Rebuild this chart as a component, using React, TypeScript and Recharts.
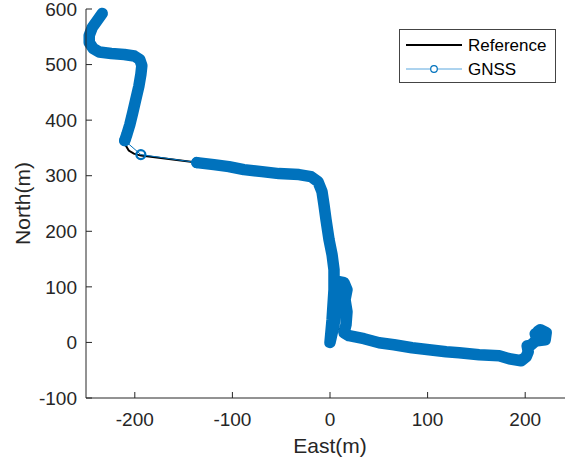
import { LineChart, Line, XAxis, YAxis, Label } from "recharts"

type Pt = [number, number]

// east/north in metres
const eastTicks = [-200, -100, 0, 100, 200]
const northTicks = [-100, 0, 100, 200, 300, 400, 500, 600]

const referencePath: Pt[] = [
  [216, 15], [203, -17], [196, -33], [174, -24], [133, -18.5], [101, -13],
  [66, -4], [35, 7], [14, 17], [4, 32], [0, 0], [3, 60], [4, 131], [2, 158],
  [-4, 221], [-8, 271], [-19, 298], [-52, 304], [-104, 316], [-136.4, 323.6],
  [-193.8, 336.2], [-201, 339.8], [-206.2, 345.2], [-209.2, 354.2], [-210.3, 363.2],
  [-205, 392], [-199, 437], [-194, 482], [-193, 498], [-201, 515], [-224, 520],
  [-243, 529], [-247, 552], [-238, 579], [-233.4, 591.9],
]

const gnssSouthEast: Pt[] = [
  [215.4, 22.9], [221.5, 17.5], [220.5, 4.9], [212.3, 3.1], [210.3, 15.7],
  [215.4, 12.1], [218.5, 19.3], [213, 20], [219, 12], [216, 6], [214.4, 8],
  [205.1, -5.9], [202, -5.9], [203.1, -16.7], [201, -25.7], [195.9, -32.9],
  [183.6, -29.3], [173.3, -23.9], [152.8, -22.1], [132.3, -18.5], [119, -16.7],
  [101.5, -13.1], [84.1, -9.5], [65.6, -4.1], [50.3, -0.5], [34.9, 6.7],
  [19.5, 12.1], [14.4, 17.5], [16.4, 31.9], [17.4, 55.3], [15.4, 76.9],
  [17.4, 94.9], [14.4, 107.5], [9.2, 109.3], [7.2, 86], [6.2, 59], [4.1, 31.9],
  [0, 0], [2.1, 40.9], [4.1, 94.9], [4.1, 130.9], [2.1, 158], [-1, 185],
  [-4.1, 221], [-6.2, 248], [-8.2, 271.4], [-12.3, 289.4], [-19.5, 298.4],
  [-31.8, 302], [-52.3, 303.8], [-69.7, 307.4], [-88.2, 311], [-103.6, 316.4],
  [-119, 320], [-136.4, 323.6],
]

const gnssGap: Pt[] = [
  [-136.4, 323.6], [-193.8, 338], [-210.3, 363.2],
]

const gnssNorthWest: Pt[] = [
  [-210.3, 363.2], [-208.2, 374], [-205.1, 392], [-202.1, 413.6], [-199, 437.1],
  [-195.9, 460.5], [-193.8, 482.1], [-192.8, 498.3], [-194.9, 509.1],
  [-200.5, 515.4], [-210.8, 518.1], [-224.1, 519.9], [-236.4, 522.6],
  [-242.6, 528.9], [-246.7, 539.7], [-246.7, 552.3], [-243.6, 566.7],
  [-238.5, 579.3], [-233.4, 591.9],
]

const toRows = (pts: Pt[]) => pts.map(([e, n]) => ({ e, n }))

const ink = "#262626"
const gnssBlue = "#0072BD"
const font = '"Liberation Sans", Arial, Helvetica, sans-serif'

const tickStyle = { fill: ink, fontSize: 19, fontFamily: font }

function EastLabel(props: any) {
  const vb = props.viewBox
  return (
    <text
      x={vb.x + vb.width / 2}
      y={vb.y + 55}
      textAnchor="middle"
      fill={ink}
      fontSize={21}
      fontFamily={font}
    >
      East(m)
    </text>
  )
}

function NorthLabel(props: any) {
  const vb = props.viewBox
  const x = vb.x + 30
  const y = vb.y + vb.height / 2
  return (
    <text
      x={x}
      y={y}
      transform={`rotate(-90, ${x}, ${y})`}
      textAnchor="middle"
      fill={ink}
      fontSize={21}
      fontFamily={font}
    >
      North(m)
    </text>
  )
}

function LegendBox() {
  return (
    <svg
      width={157}
      height={54}
      style={{ position: "absolute", left: 399, top: 29 }}
    >
      <rect x={0.5} y={0.5} width={156} height={53} fill="#fff" stroke="#444" />
      <line x1={7} x2={63} y1={16} y2={16} stroke="#000" strokeWidth={2} />
      <text x={69} y={16} dominantBaseline="central" fill="#000" fontSize={17} fontFamily={font}>
        Reference
      </text>
      <line x1={7} x2={63} y1={40} y2={40} stroke="#5aa7de" strokeWidth={1} />
      <circle cx={35} cy={40} r={3.3} fill="#fff" stroke={gnssBlue} strokeWidth={1.2} />
      <text x={69} y={40} dominantBaseline="central" fill="#000" fontSize={17} fontFamily={font}>
        GNSS
      </text>
    </svg>
  )
}

export default function App() {
  return (
    <div
      style={{
        position: "absolute",
        left: 0,
        top: 0,
        width: 565,
        height: 464,
        overflow: "hidden",
        background: "#fff",
      }}
    >
      <LineChart width={580} height={464} margin={{ top: 9, right: 6, bottom: 0, left: 0 }}>
        <XAxis
          dataKey="e"
          type="number"
          domain={[-250, 250]}
          ticks={eastTicks}
          interval={0}
          height={66}
          tickSize={-6}
          tickMargin={20.5}
          tick={tickStyle}
          axisLine={{ stroke: ink }}
          tickLine={{ stroke: ink }}
        >
          <Label content={EastLabel} />
        </XAxis>
        <XAxis
          xAxisId="top"
          orientation="top"
          type="number"
          domain={[-250, 250]}
          ticks={eastTicks}
          interval={0}
          height={0}
          tickSize={-6}
          tick={false}
          axisLine={{ stroke: ink }}
          tickLine={{ stroke: ink }}
        />
        <YAxis
          type="number"
          domain={[-100, 600]}
          ticks={northTicks}
          interval={0}
          width={86}
          tickSize={-6}
          tickMargin={15}
          tick={tickStyle}
          axisLine={{ stroke: ink }}
          tickLine={{ stroke: ink }}
        >
          <Label content={NorthLabel} />
        </YAxis>
        <Line
          data={toRows(referencePath)}
          dataKey="n"
          type="linear"
          stroke="#000"
          strokeWidth={2}
          dot={false}
          isAnimationActive={false}
        />
        <Line
          data={toRows(gnssGap)}
          dataKey="n"
          type="linear"
          stroke={gnssBlue}
          strokeWidth={1}
          dot={{ r: 4.5, stroke: gnssBlue, strokeWidth: 2.2, fill: "none" }}
          isAnimationActive={false}
        />
        <Line
          data={toRows(gnssSouthEast)}
          dataKey="n"
          type="linear"
          stroke={gnssBlue}
          strokeWidth={11.5}
          strokeLinecap="round"
          strokeLinejoin="round"
          dot={false}
          isAnimationActive={false}
        />
        <Line
          data={toRows(gnssNorthWest)}
          dataKey="n"
          type="linear"
          stroke={gnssBlue}
          strokeWidth={11.5}
          strokeLinecap="round"
          strokeLinejoin="round"
          dot={false}
          isAnimationActive={false}
        />
      </LineChart>
      <LegendBox />
    </div>
  )
}
